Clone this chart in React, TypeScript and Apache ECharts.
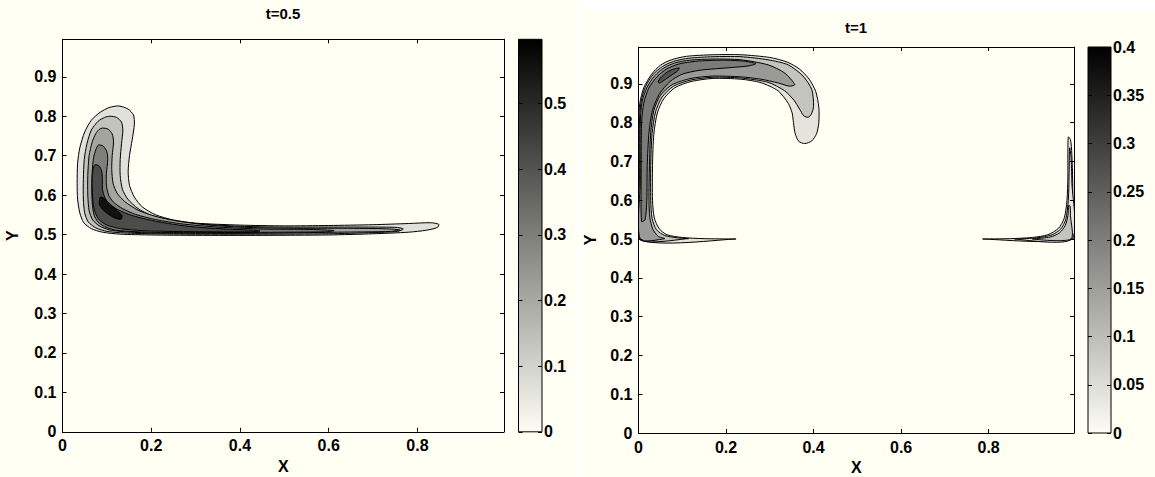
import React, { useEffect, useRef } from 'react';
import * as echarts from 'echarts';

// ---------- axes / ticks ----------
const axisMax = 0.995;
const xTicks = [0, 0.2, 0.4, 0.6, 0.8];
const yTicks = [0, 0.1, 0.2, 0.3, 0.4, 0.5, 0.6, 0.7, 0.8, 0.9];
const titles = ['t=0.5', 't=1'];
const leftBarMax = 0.598;
const leftBarTicks = [0, 0.1, 0.2, 0.3, 0.4, 0.5];
const rightBarMax = 0.4;
const rightBarTicks = [0, 0.05, 0.1, 0.15, 0.2, 0.25, 0.3, 0.35, 0.4];

// ---------- t = 0.5 contours (x, y) ----------
const leftC1 = [[0.127,0.826],[0.148,0.818],[0.16,0.803],[0.162,0.78],[0.157,0.74],[0.151,0.7],[0.148,0.66],[0.151,0.625],[0.162,0.595],[0.18,0.57],[0.21,0.55],[0.25,0.537],[0.3,0.529],[0.4,0.524],[0.5,0.522],[0.6,0.523],[0.7,0.525],[0.78,0.528],[0.83,0.53],[0.848,0.526],[0.845,0.518],[0.82,0.511],[0.78,0.506],[0.7,0.502],[0.6,0.499],[0.45,0.498],[0.3,0.498],[0.2,0.499],[0.13,0.501],[0.09,0.506],[0.065,0.515],[0.048,0.53],[0.039,0.555],[0.034,0.59],[0.033,0.63],[0.034,0.68],[0.039,0.72],[0.05,0.76],[0.065,0.79],[0.085,0.81],[0.105,0.822]];
const leftC2 = [[0.107,0.8],[0.122,0.797],[0.133,0.785],[0.136,0.765],[0.133,0.73],[0.13,0.69],[0.13,0.65],[0.135,0.615],[0.147,0.59],[0.17,0.566],[0.2,0.549],[0.24,0.537],[0.3,0.528],[0.4,0.521],[0.5,0.519],[0.6,0.519],[0.7,0.519],[0.755,0.518],[0.768,0.514],[0.755,0.508],[0.7,0.505],[0.6,0.502],[0.45,0.501],[0.3,0.501],[0.2,0.502],[0.14,0.504],[0.1,0.508],[0.075,0.517],[0.058,0.532],[0.05,0.555],[0.047,0.59],[0.047,0.64],[0.049,0.69],[0.055,0.73],[0.065,0.765],[0.08,0.787],[0.095,0.797]];
const leftC3 = [[0.09,0.77],[0.103,0.767],[0.112,0.755],[0.115,0.735],[0.112,0.7],[0.111,0.665],[0.114,0.63],[0.123,0.605],[0.14,0.584],[0.17,0.562],[0.21,0.546],[0.26,0.534],[0.33,0.524],[0.42,0.518],[0.52,0.516],[0.62,0.516],[0.72,0.515],[0.76,0.512],[0.74,0.508],[0.62,0.506],[0.5,0.504],[0.4,0.503],[0.3,0.503],[0.2,0.504],[0.14,0.507],[0.105,0.512],[0.083,0.522],[0.068,0.537],[0.06,0.56],[0.057,0.6],[0.057,0.65],[0.06,0.7],[0.067,0.735],[0.075,0.756],[0.082,0.766]];
const leftC4 = [[0.081,0.727],[0.092,0.724],[0.1,0.71],[0.102,0.69],[0.099,0.655],[0.099,0.625],[0.104,0.6],[0.115,0.582],[0.135,0.566],[0.165,0.551],[0.21,0.538],[0.27,0.527],[0.35,0.519],[0.45,0.514],[0.56,0.513],[0.612,0.51],[0.59,0.507],[0.5,0.506],[0.35,0.505],[0.25,0.505],[0.17,0.507],[0.12,0.511],[0.095,0.52],[0.08,0.532],[0.071,0.55],[0.067,0.58],[0.066,0.62],[0.067,0.66],[0.07,0.695],[0.075,0.715]];
const leftC5 = [[0.073,0.677],[0.082,0.674],[0.088,0.662],[0.09,0.64],[0.09,0.615],[0.095,0.595],[0.105,0.578],[0.125,0.563],[0.155,0.549],[0.2,0.536],[0.25,0.526],[0.3,0.519],[0.37,0.514],[0.43,0.511],[0.445,0.509],[0.42,0.507],[0.33,0.507],[0.24,0.508],[0.18,0.51],[0.13,0.515],[0.1,0.524],[0.083,0.537],[0.074,0.555],[0.069,0.58],[0.067,0.615],[0.067,0.645],[0.069,0.665]];
const leftC6 = [[0.085,0.595],[0.093,0.592],[0.105,0.58],[0.12,0.564],[0.134,0.548],[0.132,0.539],[0.12,0.541],[0.104,0.551],[0.09,0.564],[0.083,0.578]];
const leftLevels = [0.066, 0.136, 0.209, 0.3, 0.418, 0.558];

// ---------- t = 1 contours (x, y) ----------
const rightC1 = [[0.0,0.5],[0.0,0.65],[0.0,0.8],[0.003,0.85],[0.012,0.89],[0.03,0.925],[0.05,0.948],[0.075,0.962],[0.11,0.971],[0.17,0.975],[0.234,0.975],[0.3,0.968],[0.34,0.956],[0.368,0.938],[0.39,0.912],[0.405,0.88],[0.412,0.84],[0.412,0.8],[0.407,0.772],[0.396,0.753],[0.38,0.746],[0.366,0.752],[0.358,0.772],[0.354,0.8],[0.351,0.825],[0.342,0.85],[0.319,0.882],[0.28,0.903],[0.234,0.912],[0.17,0.914],[0.12,0.906],[0.083,0.89],[0.058,0.862],[0.043,0.825],[0.035,0.77],[0.032,0.69],[0.032,0.6],[0.036,0.555],[0.047,0.527],[0.065,0.511],[0.1,0.504],[0.15,0.501],[0.222,0.5]];
const rightC2 = [[0.002,0.5],[0.002,0.65],[0.002,0.8],[0.006,0.855],[0.016,0.893],[0.034,0.925],[0.055,0.945],[0.08,0.958],[0.115,0.966],[0.17,0.97],[0.234,0.97],[0.296,0.962],[0.342,0.949],[0.376,0.92],[0.396,0.885],[0.4,0.842],[0.395,0.822],[0.388,0.814],[0.378,0.817],[0.368,0.835],[0.355,0.858],[0.334,0.882],[0.296,0.904],[0.234,0.915],[0.17,0.917],[0.12,0.91],[0.08,0.894],[0.054,0.866],[0.039,0.828],[0.031,0.772],[0.028,0.69],[0.028,0.6],[0.031,0.553],[0.041,0.524],[0.06,0.509],[0.09,0.503],[0.114,0.501]];
const rightC3 = [[0.004,0.5],[0.004,0.65],[0.004,0.8],[0.008,0.853],[0.019,0.89],[0.037,0.921],[0.058,0.941],[0.083,0.954],[0.117,0.961],[0.17,0.964],[0.234,0.962],[0.296,0.949],[0.334,0.928],[0.357,0.898],[0.345,0.894],[0.32,0.902],[0.28,0.912],[0.234,0.918],[0.17,0.92],[0.12,0.914],[0.077,0.898],[0.05,0.87],[0.035,0.831],[0.028,0.775],[0.025,0.69],[0.024,0.6],[0.026,0.555],[0.033,0.525],[0.045,0.507],[0.06,0.501]];
const rightC4 = [[0.007,0.545],[0.006,0.65],[0.007,0.8],[0.012,0.85],[0.023,0.888],[0.042,0.918],[0.065,0.939],[0.095,0.952],[0.14,0.959],[0.2,0.961],[0.245,0.958],[0.268,0.952],[0.25,0.946],[0.2,0.941],[0.14,0.935],[0.1,0.925],[0.072,0.906],[0.048,0.874],[0.032,0.832],[0.024,0.775],[0.02,0.69],[0.019,0.6],[0.015,0.55]];
const rightC5 = [[0.045,0.905],[0.05,0.915],[0.065,0.93],[0.08,0.938],[0.093,0.941],[0.09,0.934],[0.075,0.922],[0.058,0.909],[0.048,0.902]];
const rightF1 = [[0.787,0.5],[0.85,0.501],[0.9,0.504],[0.935,0.511],[0.96,0.528],[0.973,0.555],[0.979,0.6],[0.981,0.66],[0.981,0.72],[0.982,0.763],[0.987,0.756],[0.99,0.72],[0.992,0.65],[0.992,0.58],[0.992,0.5]];
const rightF2 = [[0.86,0.5],[0.91,0.503],[0.945,0.511],[0.965,0.526],[0.976,0.55],[0.982,0.6],[0.984,0.68],[0.985,0.735],[0.988,0.715],[0.99,0.65],[0.99,0.5]];
const rightF3 = [[0.9,0.5],[0.94,0.505],[0.962,0.516],[0.975,0.535],[0.981,0.56],[0.983,0.587],[0.986,0.585],[0.987,0.56],[0.988,0.5]];
const rightLevels = [0.04, 0.09, 0.156, 0.205, 0.268, 0.04, 0.04, 0.09];

const leftContours = [leftC1, leftC2, leftC3, leftC4, leftC5, leftC6];
const rightContours = [rightC1, rightC2, rightC3, rightC4, rightC5, rightF1, rightF2, rightF3];

// ---------- styling ----------
const CREAM = '#fffff3';
const LOW = [253, 253, 246];
const FONT = 'Liberation Sans, Arial, Helvetica, sans-serif';

function grayOf(v: number, max: number) {
  const t = Math.max(0, Math.min(1, v / max));
  const c = LOW.map((l) => Math.round(l * (1 - t)));
  return `rgb(${c[0]},${c[1]},${c[2]})`;
}

const labelStyle = { color: '#000', fontFamily: FONT, fontWeight: 'bold' as const, fontSize: 16 };
const lineStyle = { color: '#000', width: 1 };

function valueAxis(gridIndex: number, min: number, max: number, extra: any) {
  return {
    type: 'value',
    gridIndex,
    min,
    max,
    z: 5,
    splitLine: { show: false },
    axisLine: { show: true, onZero: false, lineStyle },
    axisTick: { show: false },
    axisLabel: { show: false },
    ...extra,
  };
}

function ticksOnly(values: number[]) {
  return { axisTick: { show: true, inside: true, length: 4, customValues: values, lineStyle } };
}

function ticksAndLabels(values: number[], margin: number) {
  return {
    axisTick: { show: true, inside: true, length: 4, customValues: values, lineStyle },
    axisLabel: { show: true, customValues: values, margin, ...labelStyle, formatter: (v: number) => String(v) },
  };
}

function contourSeries(contours: number[][][], levels: number[], max: number, xi: number, yi: number) {
  return {
    type: 'custom',
    xAxisIndex: xi,
    yAxisIndex: yi,
    clip: true,
    silent: true,
    data: contours.map((c, i) => [c[0][0], c[0][1], i]),
    renderItem: (_p: any, api: any) => {
      const i = api.value(2);
      const pts = contours[i].map((p) => api.coord(p));
      return {
        type: 'polygon',
        shape: { points: pts, smooth: 0.25 },
        style: { fill: grayOf(levels[i], max), stroke: '#000', lineWidth: 1 },
      };
    },
  };
}

function barSeries(max: number, xi: number, yi: number) {
  return {
    type: 'custom',
    xAxisIndex: xi,
    yAxisIndex: yi,
    silent: true,
    data: [[0, 0, max]],
    renderItem: (_p: any, api: any) => {
      const p0 = api.coord([0, 0]);
      const p1 = api.coord([1, api.value(2)]);
      return {
        type: 'rect',
        shape: { x: p0[0], y: p1[1], width: p1[0] - p0[0], height: p0[1] - p1[1] },
        style: {
          fill: new echarts.graphic.LinearGradient(0, 1, 0, 0, [
            { offset: 0, color: grayOf(0, max) },
            { offset: 1, color: grayOf(max, max) },
          ]),
          stroke: '#000',
          lineWidth: 1,
        },
      };
    },
  };
}

export default function App() {
  const ref = useRef<HTMLDivElement>(null);
  useEffect(() => {
    if (!ref.current) return;
    const chart = echarts.init(ref.current, null, { renderer: 'svg' });
    const grids = [
      { left: 62.5, top: 39.3, width: 441.5, height: 392.5 },
      { left: 518.5, top: 39.3, width: 23.5, height: 392.5 },
      { left: 638.5, top: 47, width: 435.5, height: 386 },
      { left: 1088, top: 47, width: 23, height: 386 },
    ].map((g) => ({ ...g, outerBoundsMode: 'none', containLabel: false }));

    const nameStyle = { color: '#000', fontFamily: FONT, fontWeight: 'bold', fontSize: 16 };
    const titleStyle = (t: string) => ({
      text: t, font: `bold 15px ${FONT}`, fill: '#000',
      align: 'center', verticalAlign: 'middle', textAlign: 'center', textVerticalAlign: 'middle',
    });

    const option: any = {
      animation: false,
      backgroundColor: '#ffffff',
      graphic: [
        { type: 'rect', z: -100, shape: { x: 0, y: 0, width: 578, height: 477 }, style: { fill: CREAM } },
        { type: 'rect', z: -100, shape: { x: 583, y: 10, width: 572, height: 467 }, style: { fill: CREAM } },
        { type: 'text', x: 283, y: 13, z: 10, style: titleStyle(titles[0]) },
        { type: 'text', x: 856, y: 27, z: 10, style: titleStyle(titles[1]) },
      ],
      grid: grids,
      xAxis: [
        valueAxis(0, 0, axisMax, { ...ticksAndLabels(xTicks, 6), name: 'X', nameLocation: 'middle', nameGap: 24, nameTextStyle: nameStyle }),
        valueAxis(0, 0, axisMax, { position: 'top', ...ticksOnly(xTicks) }),
        valueAxis(1, 0, 1, { axisLine: { show: false } }),
        valueAxis(2, 0, axisMax, { ...ticksAndLabels(xTicks, 6), name: 'X', nameLocation: 'middle', nameGap: 23, nameTextStyle: nameStyle }),
        valueAxis(2, 0, axisMax, { position: 'top', ...ticksOnly(xTicks) }),
        valueAxis(3, 0, 1, { axisLine: { show: false } }),
      ],
      yAxis: [
        valueAxis(0, 0, axisMax, { position: 'left', ...ticksAndLabels(yTicks, 6), name: 'Y', nameLocation: 'middle', nameGap: 42, nameTextStyle: nameStyle }),
        valueAxis(0, 0, axisMax, { position: 'right', ...ticksOnly(yTicks) }),
        valueAxis(1, 0, leftBarMax, { position: 'left', axisLine: { show: false }, ...ticksOnly(leftBarTicks) }),
        valueAxis(1, 0, leftBarMax, { position: 'right', axisLine: { show: false }, ...ticksAndLabels(leftBarTicks, 2) }),
        valueAxis(2, 0, axisMax, { position: 'left', ...ticksAndLabels(yTicks, 6), name: 'Y', nameLocation: 'middle', nameGap: 40, nameTextStyle: nameStyle }),
        valueAxis(2, 0, axisMax, { position: 'right', ...ticksOnly(yTicks) }),
        valueAxis(3, 0, rightBarMax, { position: 'left', axisLine: { show: false }, ...ticksOnly(rightBarTicks) }),
        valueAxis(3, 0, rightBarMax, { position: 'right', axisLine: { show: false }, ...ticksAndLabels(rightBarTicks, 2) }),
      ],
      series: [
        contourSeries(leftContours, leftLevels, leftBarMax, 0, 0),
        barSeries(leftBarMax, 2, 2),
        contourSeries(rightContours, rightLevels, rightBarMax, 3, 4),
        barSeries(rightBarMax, 5, 6),
      ],
    };
    chart.setOption(option);
    return () => chart.dispose();
  }, []);
  return <div ref={ref} style={{ position: 'absolute', left: 0, top: 0, width: 1155, height: 477 }} />;
}
